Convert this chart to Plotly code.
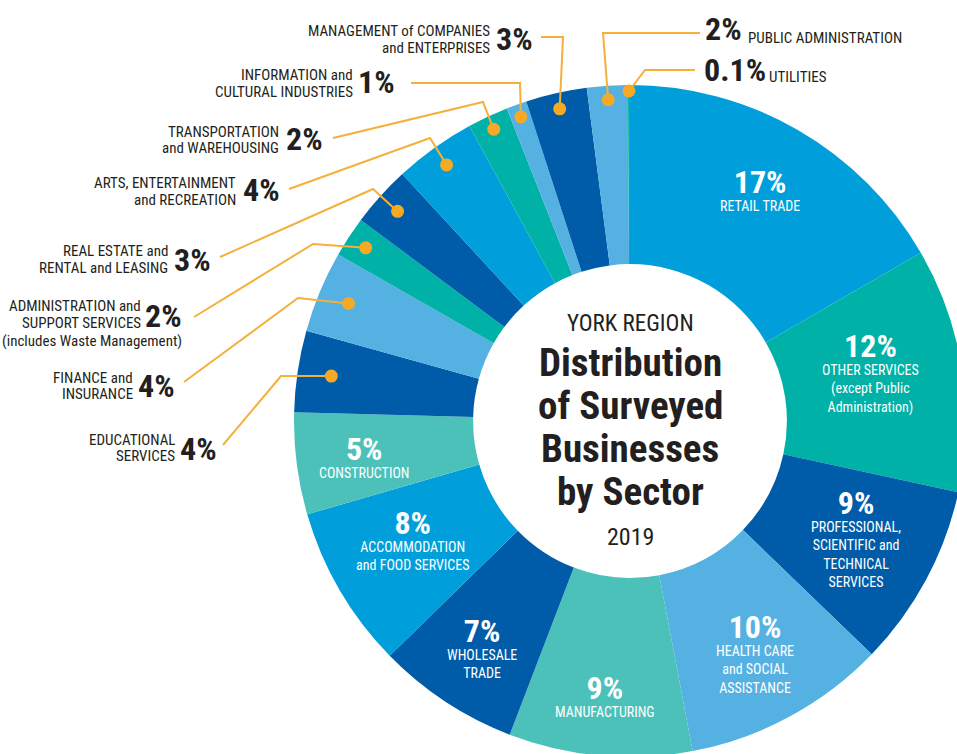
import math
import plotly.graph_objects as go

# ---------------- data ----------------
sectors = [
    "Retail Trade", "Other Services (except Public Administration)",
    "Professional, Scientific and Technical Services", "Health Care and Social Assistance",
    "Manufacturing", "Wholesale Trade", "Accommodation and Food Services", "Construction",
    "Educational Services", "Finance and Insurance",
    "Administration and Support Services (includes Waste Management)",
    "Real Estate and Rental and Leasing", "Arts, Entertainment and Recreation",
    "Transportation and Warehousing", "Information and Cultural Industries",
    "Management of Companies and Enterprises", "Public Administration", "Utilities",
]
shares = [17, 12, 9, 10, 9, 7, 8, 5, 4, 4, 2, 3, 4, 2, 1, 3, 2, 0.1]
pct_labels = ["17%", "12%", "9%", "10%", "9%", "7%", "8%", "5%", "4%", "4%",
              "2%", "3%", "4%", "2%", "1%", "3%", "2%", "0.1%"]
display_names = [
    ["RETAIL TRADE"],
    ["OTHER SERVICES", "(except Public", "Administration)"],
    ["PROFESSIONAL,", "SCIENTIFIC and", "TECHNICAL", "SERVICES"],
    ["HEALTH CARE", "and SOCIAL", "ASSISTANCE"],
    ["MANUFACTURING"],
    ["WHOLESALE", "TRADE"],
    ["ACCOMMODATION", "and FOOD SERVICES"],
    ["CONSTRUCTION"],
    ["EDUCATIONAL", "SERVICES"],
    ["FINANCE and", "INSURANCE"],
    ["ADMINISTRATION and", "SUPPORT SERVICES"],
    ["REAL ESTATE and", "RENTAL and LEASING"],
    ["ARTS, ENTERTAINMENT", "and RECREATION"],
    ["TRANSPORTATION", "and WAREHOUSING"],
    ["INFORMATION and", "CULTURAL INDUSTRIES"],
    ["MANAGEMENT of COMPANIES", "and ENTERPRISES"],
    ["PUBLIC ADMINISTRATION"],
    ["UTILITIES"],
]
admin_note = "(includes Waste Management)"
title_lines = ["YORK REGION", "Distribution", "of Surveyed", "Businesses", "by Sector", "2019"]

# ---------------- styles ----------------
BLUE, TEAL, DARK, LIGHT, LTEAL = "#009FDB", "#00B1A7", "#005CA9", "#56B1E3", "#4BC1BA"
slice_colors = [BLUE, TEAL, DARK, LIGHT, LTEAL, DARK, BLUE, LTEAL, DARK, LIGHT,
                TEAL, DARK, BLUE, TEAL, LIGHT, DARK, LIGHT, TEAL]
GOLD_LINE, GOLD_DOT = "#F4B03A", "#F6A925"
INK = "#231F20"
FONT = "Roboto Condensed, Liberation Sans Narrow, Arial Narrow, Roboto, sans-serif"

W, H = 1000, 800          # canvas larger than the window: right/bottom get cropped
CX, CY, R = 630, 421, 336  # donut centre and radius in pixels
HOLE = 0.467

# inside label placement: radius (px) and vertical nudge (px) per slice 0..7
inside_r = [260, 243, 256, 263, 275, 270, 252, 268]
inside_dy = [-7, -12, -5, 0, 0, 0, -9, 0]
# outside labels layout
outside = {
    8:  dict(px=219, py=449, nx=177, ny=[440, 456], start=(223, 445), elbow=(281, 376), dr=302, side="L"),
    9:  dict(px=177, py=386, nx=135, ny=[378, 394], start=(184, 382), elbow=(298, 298), dr=305, side="L"),
    10: dict(px=184, py=316, nx=143, ny=[306, 323], start=(194, 317), elbow=(313, 244), dr=316, side="L"),
    11: dict(px=213, py=260, nx=170, ny=[251, 268], start=(220, 257), elbow=(373, 189), dr=313, side="L"),
    12: dict(px=282, py=190, nx=238, ny=[183, 200], start=(289, 189), elbow=(430, 138), dr=315, side="L"),
    13: dict(px=325, py=139, nx=281, ny=[132, 148], start=(333, 138), elbow=(483, 102), dr=322, side="L"),
    14: dict(px=397, py=82, nx=355, ny=[75, 92], start=(411, 83), elbow=(520, 83), dr=323, side="L"),
    15: dict(px=535, py=39, nx=492, ny=[31, 48], start=(541, 37), elbow=(563, 37), dr=320, side="L"),
    16: dict(px=703, py=29, nx=746, ny=[37.5], start=(700, 33), elbow=(603, 33), dr=322, side="R"),
    17: dict(px=702, py=70, nx=767, ny=[76.5], start=(695, 70), elbow=(645, 70), dr=330, side="R"),
}

# ---------------- figure ----------------
fig = go.Figure()
fig.add_trace(go.Scatter(x=[], y=[], showlegend=False, hoverinfo="skip"))
fig.add_trace(go.Pie(
    labels=sectors, values=shares, sort=False, direction="clockwise", rotation=0,
    hole=HOLE, textinfo="none", showlegend=False,
    marker=dict(colors=slice_colors, line=dict(width=0)),
    domain=dict(x=[(CX - R) / W, (CX + R) / W], y=[1 - (CY + R) / H, 1 - (CY - R) / H]),
))

total = sum(shares)
cum = 0.0
mids = []
for v in shares:
    mids.append((cum + v / 2) / total * 2 * math.pi)
    cum += v

def polar(a, r):
    return CX + r * math.sin(a), CY - r * math.cos(a)

annotations = []
shapes = []

# inside labels
for i, r in enumerate(inside_r):
    x, y = polar(mids[i], r)
    txt = "<span style='font-size:32px'><b>%s</b></span><br>%s" % (pct_labels[i], "<br>".join(display_names[i]))
    annotations.append(dict(x=x, y=y + inside_dy[i], xref="x", yref="y", text=txt, showarrow=False,
                            font=dict(family=FONT, size=14, color="white"),
                            xanchor="center", yanchor="middle", align="center"))

# outside labels with leader lines
for i, o in outside.items():
    dx, dy = polar(mids[i], o["dr"])
    sx, sy = o["start"]
    ex, ey = o["elbow"]
    shapes.append(dict(type="path", xref="x", yref="y", layer="above",
                       path="M %.1f %.1f L %.1f %.1f L %.1f %.1f" % (sx, sy, ex, ey, dx, dy),
                       line=dict(color=GOLD_LINE, width=2)))
    shapes.append(dict(type="circle", xref="x", yref="y", layer="above",
                       x0=dx - 6.5, x1=dx + 6.5, y0=dy - 6.5, y1=dy + 6.5,
                       fillcolor=GOLD_DOT, line=dict(width=0)))
    anchor = "right" if o["side"] == "L" else "left"
    annotations.append(dict(x=o["px"], y=o["py"], xref="x", yref="y", text="<b>%s</b>" % pct_labels[i],
                            showarrow=False, font=dict(family=FONT, size=32, color=INK),
                            xanchor=anchor, yanchor="middle"))
    for line, ly in zip(display_names[i], o["ny"]):
        annotations.append(dict(x=o["nx"], y=ly, xref="x", yref="y", text=line, showarrow=False,
                                font=dict(family=FONT, size=15, color=INK),
                                xanchor=anchor, yanchor="middle"))
annotations.append(dict(x=184, y=341, xref="x", yref="y", text=admin_note, showarrow=False,
                        font=dict(family=FONT, size=15, color=INK), xanchor="right", yanchor="middle"))

# centre title
title_y = [323, 363, 406, 449, 492, 537]
title_size = [23, 39, 39, 39, 39, 24]
for t, ty, ts in zip(title_lines, title_y, title_size):
    bold = ts == 39
    annotations.append(dict(x=CX, y=ty, xref="x", yref="y", text="<b>%s</b>" % t if bold else t,
                            showarrow=False, font=dict(family=FONT, size=ts, color=INK),
                            xanchor="center", yanchor="middle"))

fig.update_layout(
    width=W, height=H, margin=dict(l=0, r=0, t=0, b=0, pad=0),
    paper_bgcolor="white", plot_bgcolor="white",
    xaxis=dict(range=[0, W], visible=False, domain=[0, 1], fixedrange=True),
    yaxis=dict(range=[H, 0], visible=False, domain=[0, 1], fixedrange=True),
    annotations=annotations, shapes=shapes, showlegend=False,
)

fig.write_html("out.html", config={"displayModeBar": False},
               post_script="document.body.style.margin='0';document.body.style.overflow='hidden';")
